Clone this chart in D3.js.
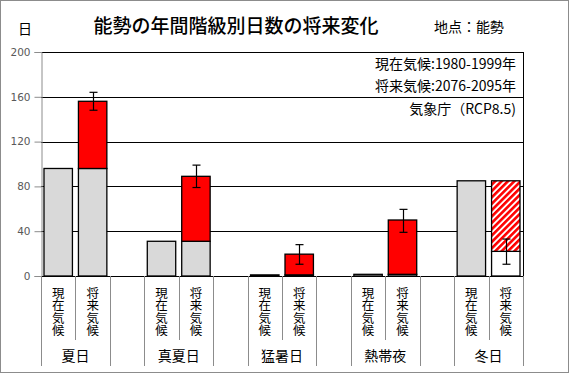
<!DOCTYPE html>
<html>
<head>
<meta charset="utf-8">
<script src="https://cdn.jsdelivr.net/npm/d3@7"></script>
<style>
  body { margin: 0; background: #fff; }
  text { font-family: "Noto Sans CJK JP", "Noto Sans", sans-serif; }
</style>
</head>
<body>
<div id="chart"></div>
<script>
// data
let groups = ["夏日", "真夏日", "猛暑日", "熱帯夜", "冬日"];
let current = [96, 31, 1, 1.5, 85];
let future = [156, 89, 19.5, 50, 22];
let errLow = [148, 79, 10.5, 39, 10.5];
let errHigh = [164, 99, 28, 59.5, 33];
let yTicks = [0, 40, 80, 120, 160, 200];
let periods = ["現在気候", "将来気候"];

let width = 569;
let height = 373;
let plot = {left: 41, right: 523, top: 52, bottom: 276};

let svg = d3.select("#chart").append("svg")
  .attr("width", width)
  .attr("height", height);

let defs = svg.append("defs");
let pat = defs.append("pattern")
  .attr("id", "hatch")
  .attr("patternUnits", "userSpaceOnUse")
  .attr("width", 4.5)
  .attr("height", 4.5)
  .attr("patternTransform", "rotate(45)");
pat.append("rect").attr("width", 4.5).attr("height", 4.5).attr("fill", "#fff");
pat.append("rect").attr("width", 2.6).attr("height", 4.5).attr("fill", "#ff0000");

svg.append("rect")
  .attr("x", 0.5).attr("y", 0.5)
  .attr("width", width - 1).attr("height", height - 1)
  .attr("fill", "#fff").attr("stroke", "#8c8c8c");

// slots: two per group plus one blank between groups
let slots = [];
groups.forEach((g, i) => {
  slots.push(g + "|0", g + "|1");
  if (i < groups.length - 1) slots.push("gap" + i);
});

let x = d3.scaleBand().domain(slots).range([plot.left, plot.right]);
let y = d3.scaleLinear().domain([0, 200]).range([plot.bottom, plot.top]);

// grid
svg.append("g").selectAll("line")
  .data(yTicks.filter(d => d > 0))
  .join("line")
  .attr("x1", plot.left).attr("x2", plot.right)
  .attr("y1", d => Math.round(y(d)) + 0.5).attr("y2", d => Math.round(y(d)) + 0.5)
  .attr("stroke", "#000");

svg.append("line")
  .attr("x1", plot.right + 0.5).attr("x2", plot.right + 0.5)
  .attr("y1", y(200)).attr("y2", y(0))
  .attr("stroke", "#000");

// y axis
let yAxis = svg.append("g")
  .attr("transform", `translate(${plot.left + 0.5},0)`)
  .call(d3.axisLeft(y).tickValues(yTicks).tickSize(7).tickPadding(4));
yAxis.select(".domain").attr("stroke", "#8c8c8c");
yAxis.selectAll(".tick line").attr("stroke", "#8c8c8c");
yAxis.selectAll(".tick text")
  .attr("fill", "#595959")
  .style("font-family", "'DejaVu Sans', sans-serif")
  .style("font-size", "10.5px");

let bw = x.bandwidth() - 6;

// bars
groups.forEach((g, i) => {
  let cx = x(g + "|0") + 3;
  svg.append("rect")
    .attr("x", cx).attr("width", bw)
    .attr("y", y(current[i])).attr("height", y(0) - y(current[i]))
    .attr("fill", "#d9d9d9").attr("stroke", "#000").attr("stroke-width", 1.3);

  let fx = x(g + "|1") + 3;
  let base = Math.min(current[i], future[i]);
  let decrease = future[i] < current[i];
  svg.append("rect")
    .attr("x", fx).attr("width", bw)
    .attr("y", y(base)).attr("height", y(0) - y(base))
    .attr("fill", decrease ? "#fff" : "#d9d9d9").attr("stroke", "#000").attr("stroke-width", 1.3);
  let top = Math.max(current[i], future[i]);
  svg.append("rect")
    .attr("x", fx).attr("width", bw)
    .attr("y", y(top)).attr("height", y(base) - y(top))
    .attr("fill", decrease ? "url(#hatch)" : "#ff0000").attr("stroke", "#000").attr("stroke-width", 1.3);

  // error bar
  let ex = Math.round(fx + bw / 2) + 0.5;
  let eb = svg.append("g").attr("stroke", "#000").attr("stroke-width", 1.2);
  eb.append("line").attr("x1", ex).attr("x2", ex).attr("y1", y(errLow[i])).attr("y2", y(errHigh[i]));
  [errLow[i], errHigh[i]].forEach(v => {
    eb.append("line").attr("x1", ex - 4).attr("x2", ex + 4).attr("y1", y(v)).attr("y2", y(v));
  });
});

// category axis line
svg.append("line")
  .attr("x1", plot.left).attr("x2", plot.right + 1)
  .attr("y1", plot.bottom + 0.5).attr("y2", plot.bottom + 0.5)
  .attr("stroke", "#000");

// dividers under the axis
let dividers = svg.append("g").attr("stroke", "#8c8c8c");
slots.concat(["end"]).forEach((s, i) => {
  let xx = i < slots.length ? x(s) : plot.right;
  let short = s.endsWith("|1");
  dividers.append("line")
    .attr("x1", Math.round(xx) + 0.5).attr("x2", Math.round(xx) + 0.5)
    .attr("y1", plot.bottom).attr("y2", short ? 340 : 366);
});

// vertical period labels, one character per line
groups.forEach(g => {
  periods.forEach((p, j) => {
    let cx = x(g + "|" + j) + x.bandwidth() / 2;
    let t = svg.append("text")
      .attr("text-anchor", "middle")
      .style("font-size", "12.5px")
      .attr("fill", "#000");
    p.split("").forEach((ch, k) => {
      t.append("tspan").attr("x", cx).attr("y", 297.5 + k * 12.6).text(ch);
    });
  });
  svg.append("text")
    .attr("x", x(g + "|1"))
    .attr("y", 361)
    .attr("text-anchor", "middle")
    .style("font-size", "14px")
    .text(g);
});

// titles and notes
svg.append("text")
  .attr("x", 236).attr("y", 33)
  .attr("text-anchor", "middle")
  .style("font-size", "19px")
  .style("font-weight", "500")
  .text("能勢の年間階級別日数の将来変化");

svg.append("text")
  .attr("x", 434).attr("y", 32)
  .style("font-size", "14px")
  .text("地点：能勢");

svg.append("text")
  .attr("x", 25).attr("y", 34)
  .attr("text-anchor", "middle")
  .style("font-size", "14px")
  .text("日");

let notes = ["現在気候:1980-1999年", "将来気候:2076-2095年", "気象庁（RCP8.5)"];
svg.append("g").selectAll("text")
  .data(notes)
  .join("text")
  .attr("x", 516)
  .attr("y", (d, i) => [69, 91, 114][i])
  .attr("text-anchor", "end")
  .style("font-size", "14px")
  .text(d => d);
</script>
</body>
</html>
